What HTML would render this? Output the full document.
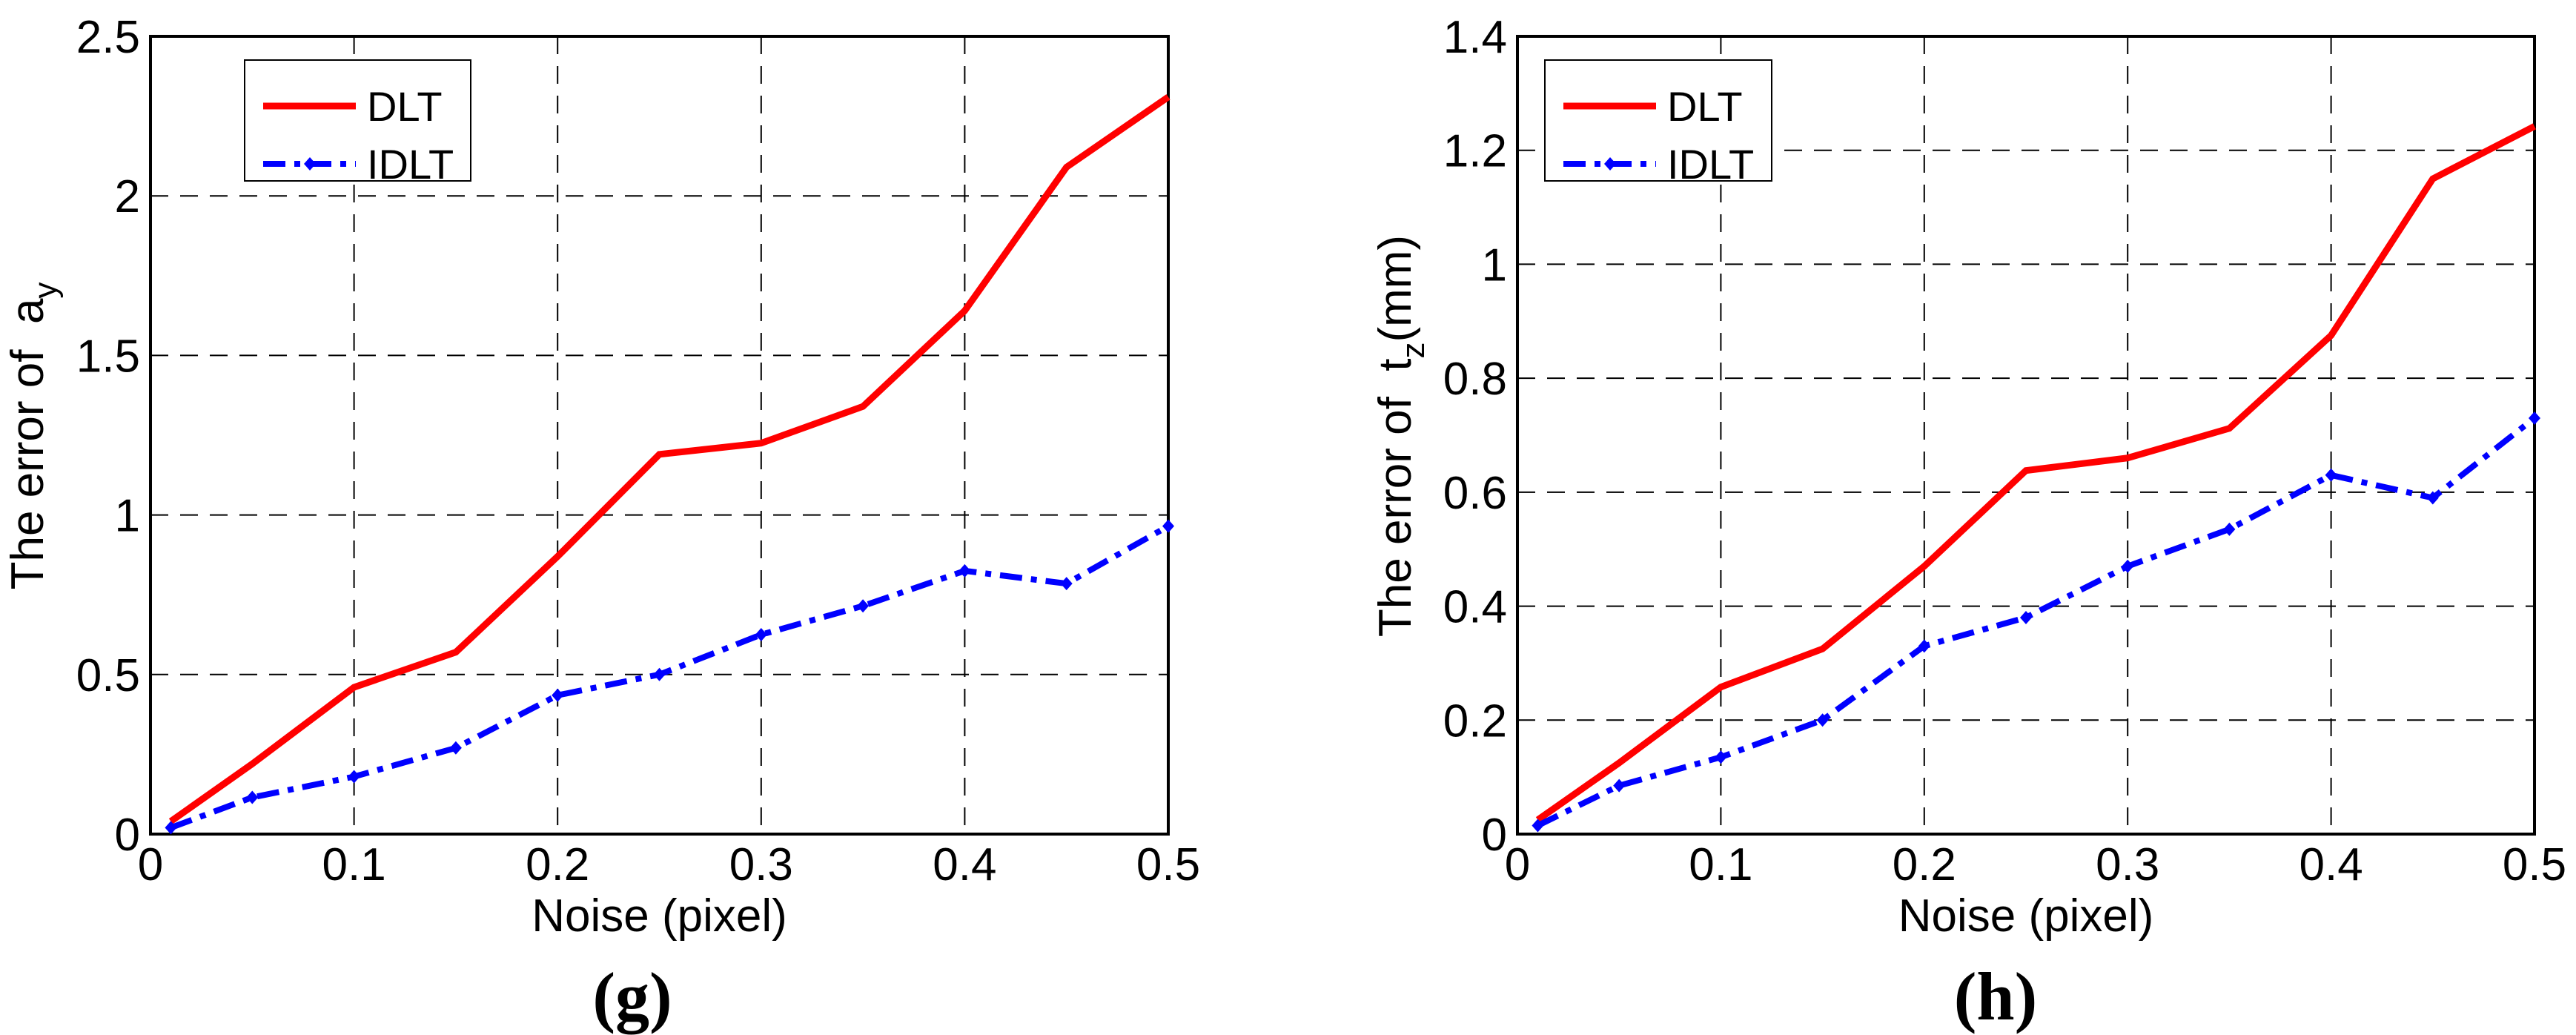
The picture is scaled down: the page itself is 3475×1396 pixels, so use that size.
<!DOCTYPE html>
<html><head><meta charset="utf-8"><style>
body{margin:0;background:#fff}
svg{display:block}
text{font-family:"Liberation Sans",sans-serif;fill:#000}
</style></head><body>
<svg id="c" width="3475" height="1396" viewBox="0 0 3475 1396" xmlns="http://www.w3.org/2000/svg"></svg>
<script>
const xVals=[0.01,0.05,0.1,0.15,0.2,0.25,0.3,0.35,0.4,0.45,0.5];
const xTicks=[0,0.1,0.2,0.3,0.4,0.5];
const xTickLabels=["0","0.1","0.2","0.3","0.4","0.5"];
const gDLT=[0.04,0.22,0.46,0.57,0.87,1.19,1.225,1.34,1.64,2.09,2.31];
const gIDLT=[0.02,0.115,0.18,0.27,0.435,0.5,0.625,0.715,0.825,0.785,0.965];
const gTicks=[0,0.5,1,1.5,2,2.5];
const gTickLabels=["0","0.5","1","1.5","2","2.5"];
const hDLT=[0.025,0.125,0.258,0.325,0.47,0.638,0.66,0.712,0.875,1.15,1.242];
const hIDLT=[0.015,0.085,0.135,0.2,0.33,0.38,0.47,0.535,0.63,0.59,0.73];
const hTicks=[0,0.2,0.4,0.6,0.8,1,1.2,1.4];
const hTickLabels=["0","0.2","0.4","0.6","0.8","1","1.2","1.4"];

const NS="http://www.w3.org/2000/svg";
const svg=document.getElementById('c');
function mk(tag,attrs,parent,txt){const e=document.createElementNS(NS,tag);for(const k in attrs)e.setAttribute(k,attrs[k]);if(txt!==undefined)e.textContent=txt;(parent||svg).appendChild(e);return e;}

function panel(cfg){
  const g=mk('g',{});
  
  
  const L=cfg.left,R=cfg.right,T=49,B=1125;
  const xs=v=>L+(v-0)/(0.5)*(R-L);
  const ys=v=>B-v/cfg.ymax*(B-T);
  xTicks.forEach((t,i)=>{
    if(i>0&&i<xTicks.length-1){const l=mk('line',{x1:xs(t),x2:xs(t),y1:T,y2:B,stroke:'#000','stroke-width':2,'stroke-dasharray':'24,16'},g);
    
    }
    const tk=mk('text',{x:xs(t),y:1187,'font-size':62,'text-anchor':'middle'},g,xTickLabels[i]);
    
    
  });
  cfg.yt.forEach((t,i)=>{
    if(i>0&&i<cfg.yt.length-1){const l=mk('line',{x1:L,x2:R,y1:ys(t),y2:ys(t),stroke:'#000','stroke-width':2,'stroke-dasharray':'24,16'},g);
    
    }
    const tk=mk('text',{x:L-14,y:ys(t)+22,'font-size':62,'text-anchor':'end'},g,cfg.ytl[i]);
    
    
  });
  const fr=mk('rect',{x:L,y:T,width:R-L,height:B-T,fill:'none',stroke:'#000','stroke-width':4},g);
  
  
  const pd=xVals.map((x,i)=>xs(x)+','+ys(cfg.dlt[i])).join(' ');
  const s1=mk('polyline',{points:pd,fill:'none',stroke:'#ff0000','stroke-width':9,'stroke-linejoin':'miter'},g);
  
  
  const pi=xVals.map((x,i)=>xs(x)+','+ys(cfg.idlt[i])).join(' ');
  const s2=mk('polyline',{points:pi,fill:'none',stroke:'#0000ff','stroke-width':8,'stroke-dasharray':'30,12,8,12'},g);
  
  
  xVals.forEach((x,i)=>{
    const cx=xs(x),cy=ys(cfg.idlt[i]);
    const m=mk('polygon',{points:`${cx},${cy-9} ${cx+8},${cy} ${cx},${cy+9} ${cx-8},${cy}`,fill:'#0000ff'},g);
    
    
  });
  const lg=mk('g',{},g);
  
  
  mk('rect',{x:cfg.lx,y:81,width:cfg.lw,height:163,fill:'#fff',stroke:'#000','stroke-width':2},lg);
  mk('line',{x1:cfg.lx+25,x2:cfg.lx+150,y1:143,y2:143,stroke:'#ff0000','stroke-width':9},lg);
  const t1=mk('text',{x:cfg.lx+165,y:163,'font-size':56},lg,'DLT');
  
  
  mk('line',{x1:cfg.lx+25,x2:cfg.lx+150,y1:221,y2:221,stroke:'#0000ff','stroke-width':8,'stroke-dasharray':'30,12,8,12'},lg);
  mk('polygon',{points:`${cfg.lx+88},212 ${cfg.lx+96},221 ${cfg.lx+88},230 ${cfg.lx+80},221`,fill:'#0000ff'},lg);
  const t2=mk('text',{x:cfg.lx+165,y:241,'font-size':56},lg,'IDLT');
  
  
  const xt=mk('text',{x:(L+R)/2,y:1256,'font-size':62,'text-anchor':'middle'},g,'Noise (pixel)');
  
  
  const yt=mk('text',{x:0,y:0,'font-size':62,'text-anchor':'middle',transform:`translate(${cfg.ylx},588) rotate(-90)`},g);
  
  
  mk('tspan',{},yt,'The error of\u00a0\u00a0'+cfg.sym);
  mk('tspan',{dy:18,'font-size':44},yt,cfg.sub);
  mk('tspan',{dy:-18},yt,cfg.unit);
  const cap=mk('text',{x:cfg.capx,y:1375,'font-size':92,'font-weight':'bold','text-anchor':'middle',style:'font-family:"Liberation Serif",serif'},g,cfg.cap);
  
  
}
panel({name:'chart-g',left:203,right:1576,ymax:2.5,yt:gTicks,ytl:gTickLabels,dlt:gDLT,idlt:gIDLT,lx:330,lw:305,ylx:58,sym:'a',sub:'y',unit:'',capx:853,cap:'(g)'});
panel({name:'chart-h',left:2047,right:3419,ymax:1.4,yt:hTicks,ytl:hTickLabels,dlt:hDLT,idlt:hIDLT,lx:2084,lw:306,ylx:1903,sym:'t',sub:'z',unit:'(mm)',capx:2692,cap:'(h)'});
</script>
</body></html>
